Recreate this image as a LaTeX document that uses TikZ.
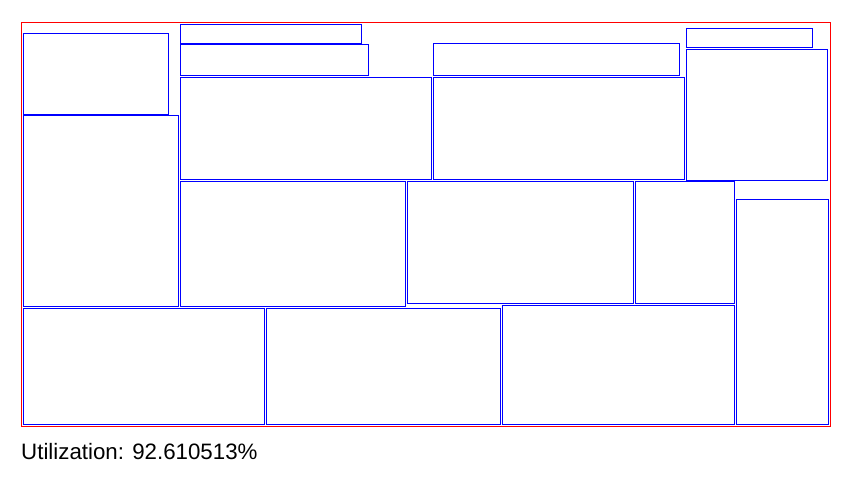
\documentclass[tikz,border=0pt]{standalone}
\usepackage{fontspec}
\setmainfont{Liberation Sans}
\begin{document}
\begin{tikzpicture}[x=1pt,y=-1pt,
  box/.style={draw=blue,line width=1pt},
  bin/.style={draw=red,line width=1pt}]
\useasboundingbox (0,0) rectangle (842,480);
\draw[bin] (21.5,22) rectangle (830,426);
\draw[box] (23.5,33.5) rectangle (168.5,114.5);
\draw[box] (23.5,115.5) rectangle (178.5,306.5);
\draw[box] (180.5,24.5) rectangle (361.5,43.5);
\draw[box] (180.5,44.5) rectangle (368.5,75.5);
\draw[box] (180.5,77.5) rectangle (431.5,179.5);
\draw[box] (180.5,181.5) rectangle (405.5,306.5);
\draw[box] (407.5,181) rectangle (633.5,303.5);
\draw[box] (635.5,181.5) rectangle (734.5,303.5);
\draw[box] (736.5,199.5) rectangle (828.5,424.5);
\draw[box] (686.5,49.5) rectangle (827.5,180.5);
\draw[box] (686.5,28.5) rectangle (812.5,47.5);
\draw[box] (433.5,43.5) rectangle (679.5,75.5);
\draw[box] (433.5,77.5) rectangle (684.5,179.5);
\draw[box] (23.5,308.5) rectangle (264.5,424.5);
\draw[box] (266.5,308.5) rectangle (500.5,424.5);
\draw[box] (502.5,305.5) rectangle (734.5,424.5);
\node[anchor=base west,inner sep=0pt,font=\fontsize{22.3}{26}\selectfont] (util) at (21,459.5) {Utilization: 92.610513\%};
\end{tikzpicture}
\end{document}
